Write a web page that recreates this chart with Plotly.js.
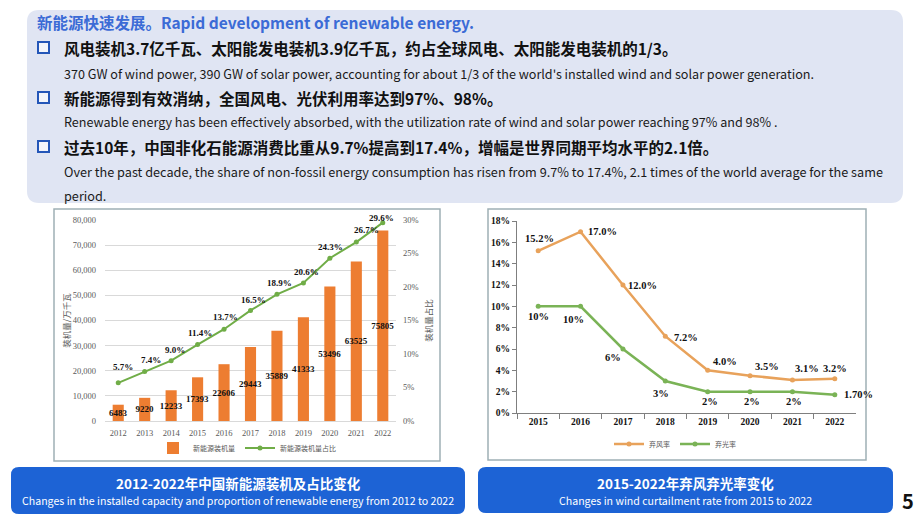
<!DOCTYPE html>
<html><head><meta charset="utf-8">
<script src="https://cdn.plot.ly/plotly-3.0.1.min.js"></script>
<style>html,body{margin:0;padding:0;background:#fff}#chart{width:920px;height:518px}</style>
</head><body><div id="chart"></div>
<script>
// ---------- data ----------
const years = ['2012','2013','2014','2015','2016','2017','2018','2019','2020','2021','2022'];
const capacity = [6483, 9220, 12233, 17393, 22606, 29443, 35889, 41333, 53496, 63525, 75805];
const shareValues = [5.7, 7.4, 9.0, 11.4, 13.7, 16.5, 18.9, 20.6, 24.3, 26.7, 29.6];
const curtailYears = ['2015','2016','2017','2018','2019','2020','2021','2022'];
const windCurtail = [15.2, 17.0, 12.0, 7.2, 4.0, 3.5, 3.1, 3.2];
const solarCurtail = [10, 10, 6, 3, 2, 2, 2, 1.7];
const solarLabels = ['10%','10%','6%','3%','2%','2%','2%','1.70%'];

const seriesNames = {bar:'新能源装机量', share:'新能源装机量占比', wind:'弃风率', solar:'弃光率'};
const axisTitles = {left:'装机量/万千瓦', right:'装机量占比'};

// ---------- styling / positions ----------
const W = 920, H = 518;
const px = x => x / W, py = y => 1 - y / H;
const SERIF = 'Liberation Serif, Times New Roman, serif';
const CJK = 'Noto Sans CJK SC, Noto Sans, sans-serif';

// label offsets (px) for the line labels
const shareOff = [[5,16],[6,11],[4,11],[2,12],[1,12],[3,10],[3,11],[3,11],[1,11],[10,12],[-1,5]];
const windOff = [[1,12,'center'],[5,0,'left'],[3,0,'left'],[7,-1,'left'],[3,9,'left'],[3,9,'left'],[1,11,'left'],[0,10,'center']];
const solarOff = [[0,-10,'center'],[-7,-13,'center'],[-10,-8,'center'],[-4,-12,'center'],[2,-10,'center'],[2,-10,'center'],[2,-10,'center'],[7,0,'left']];

function roundRect(x0, y0, x1, y1, r) {
  const rx = r / W, ry = r / H;
  const X0 = px(x0), X1 = px(x1), Y0 = py(y0), Y1 = py(y1);
  return `M ${X0+rx} ${Y0} L ${X1-rx} ${Y0} Q ${X1} ${Y0} ${X1} ${Y0-ry} L ${X1} ${Y1+ry} Q ${X1} ${Y1} ${X1-rx} ${Y1} L ${X0+rx} ${Y1} Q ${X0} ${Y1} ${X0} ${Y1+ry} L ${X0} ${Y0-ry} Q ${X0} ${Y0} ${X0+rx} ${Y0} Z`;
}

const shapes = [
  {type:'path', xref:'paper', yref:'paper', path: roundRect(27,10,903,203,12), fillcolor:'#e0e5f3', line:{width:0}, layer:'below'},
  {type:'rect', xref:'paper', yref:'paper', x0:px(54), x1:px(440), y0:py(209), y1:py(461), line:{color:'#9fb0b5', width:1.5}, layer:'below'},
  {type:'rect', xref:'paper', yref:'paper', x0:px(488), x1:px(866), y0:py(209), y1:py(460), line:{color:'#9fb0b5', width:1.5}, layer:'below'},
  {type:'path', xref:'paper', yref:'paper', path: roundRect(11,467,465,514,8), fillcolor:'#1d63d5', line:{width:0}},
  {type:'path', xref:'paper', yref:'paper', path: roundRect(478,467,893,513,8), fillcolor:'#1d63d5', line:{width:0}}
];
[48, 98, 147].forEach(c => shapes.push({type:'rect', xref:'paper', yref:'paper', x0:px(38), x1:px(49), y0:py(c-6), y1:py(c+5), line:{color:'#2456b8', width:2}, fillcolor:'#f3f5fb'}));

const pageText = [
  {t:'<b>新能源快速发展。Rapid development of renewable energy.</b>', x:35, y:22, s:15.5, c:'#3b6bd6'},
  {t:'<b>风电装机3.7亿千瓦、太阳能发电装机3.9亿千瓦，约占全球风电、太阳能发电装机的1/3。</b>', x:62, y:48, s:15.5, c:'#111'},
  {t:"370 GW of wind power, 390 GW of solar power, accounting for about 1/3 of the world's installed wind and solar power generation.", x:62, y:73, s:12.6, c:'#1a1a1a'},
  {t:'<b>新能源得到有效消纳，全国风电、光伏利用率达到97%、98%。</b>', x:62, y:98, s:15.5, c:'#111'},
  {t:'Renewable energy has been effectively absorbed, with the utilization rate of wind and solar power reaching 97% and 98% .', x:62, y:122, s:12.6, c:'#1a1a1a'},
  {t:'<b>过去10年，中国非化石能源消费比重从9.7%提高到17.4%，增幅是世界同期平均水平的2.1倍。</b>', x:62, y:147, s:15.5, c:'#111'},
  {t:'Over the past decade, the share of non-fossil energy consumption has risen from 9.7% to 17.4%, 2.1 times of the world average for the same', x:62, y:171, s:12.7, c:'#1a1a1a'},
  {t:'period.', x:62, y:195, s:12.7, c:'#1a1a1a'}
];
const annotations = pageText.map(a => ({xref:'paper', yref:'paper', x:px(a.x), y:py(a.y), xanchor:'left', yanchor:'middle', text:a.t, showarrow:false, font:{family:CJK, size:a.s, color:a.c}}));
annotations.push(
  {xref:'paper', yref:'paper', x:px(238), y:py(483), xanchor:'center', yanchor:'middle', text:'<b>2012-2022年中国新能源装机及占比变化</b>', showarrow:false, font:{family:CJK, size:13.5, color:'#fff'}},
  {xref:'paper', yref:'paper', x:px(238), y:py(500), xanchor:'center', yanchor:'middle', text:'Changes in the installed capacity and proportion of renewable energy from 2012 to 2022', showarrow:false, font:{family:CJK, size:10.6, color:'#fff'}},
  {xref:'paper', yref:'paper', x:px(685), y:py(483), xanchor:'center', yanchor:'middle', text:'<b>2015-2022年弃风弃光率变化</b>', showarrow:false, font:{family:CJK, size:13.5, color:'#fff'}},
  {xref:'paper', yref:'paper', x:px(685), y:py(500), xanchor:'center', yanchor:'middle', text:'Changes in wind curtailment rate from 2015 to 2022', showarrow:false, font:{family:CJK, size:10.6, color:'#fff'}},
  {xref:'paper', yref:'paper', x:px(908), y:py(500), xanchor:'center', yanchor:'middle', text:'<b>5</b>', showarrow:false, font:{family:CJK, size:20, color:'#111'}}
);
const lblFont = {family:SERIF, size:9, color:'#111', weight:'bold'};
const rLblFont = {family:SERIF, size:10.5, color:'#111', weight:'bold'};
// category axes: annotation x given as category index
years.forEach((yr, i) => annotations.push({xref:'x', yref:'y2', x:i, y:shareValues[i], text:shareValues[i].toFixed(1)+'%', showarrow:false, xshift:shareOff[i][0], yshift:shareOff[i][1], font:lblFont}));
curtailYears.forEach((yr, i) => {
  annotations.push({xref:'x2', yref:'y3', x:i, y:windCurtail[i], text:windCurtail[i].toFixed(1)+'%', showarrow:false, xanchor:windOff[i][2], xshift:windOff[i][0], yshift:windOff[i][1], font:rLblFont});
  annotations.push({xref:'x2', yref:'y3', x:i, y:solarCurtail[i], text:solarLabels[i], showarrow:false, xanchor:solarOff[i][2], xshift:solarOff[i][0], yshift:solarOff[i][1], font:rLblFont});
});

const traces = [
  {type:'bar', x:years, y:capacity, name:seriesNames.bar, xaxis:'x', yaxis:'y', marker:{color:'#ed7d31'},
   text:capacity.map(String), textposition:'inside', insidetextanchor:'middle', textangle:0, constraintext:'none',
   textfont:{family:SERIF, size:9, color:'#111', weight:'bold'}, legend:'legend'},
  {type:'scatter', mode:'lines+markers', x:years, y:shareValues, name:seriesNames.share, xaxis:'x', yaxis:'y2',
   line:{color:'#70ad47', width:2}, marker:{color:'#70ad47', size:5}, legend:'legend'},
  {type:'scatter', mode:'lines+markers', x:curtailYears, y:windCurtail, name:seriesNames.wind, xaxis:'x2', yaxis:'y3',
   line:{color:'#e8a25b', width:2.5}, marker:{color:'#e8a25b', size:5}, legend:'legend2'},
  {type:'scatter', mode:'lines+markers', x:curtailYears, y:solarCurtail, name:seriesNames.solar, xaxis:'x2', yaxis:'y3',
   line:{color:'#7ab356', width:2.5}, marker:{color:'#7ab356', size:5}, legend:'legend2'}
];

const grayTick = {family:SERIF, size:8.5, color:'#595959'};
const blackTick = {family:SERIF, size:9.5, color:'#111', weight:'bold'};
const layout = {
  width:W, height:H, margin:{l:0, r:0, t:0, b:0}, paper_bgcolor:'#fff', plot_bgcolor:'rgba(0,0,0,0)',
  hovermode:false, bargap:0.58, showlegend:true,
  xaxis:{domain:[px(105), px(396)], anchor:'y', type:'category', range:[-0.5, years.length-0.5], tickfont:grayTick, ticks:'', showline:false, showgrid:false, ticklabelstandoff:5},
  yaxis:{domain:[py(421), py(220)], anchor:'x', range:[0,80000], dtick:10000, tickformat:',', gridcolor:'#d9d9d9', zeroline:true, zerolinecolor:'#d9d9d9',
         tickfont:grayTick, ticklabelstandoff:8, title:{text:axisTitles.left, font:{family:CJK, size:8.5, color:'#595959'}, standoff:0}},
  yaxis2:{overlaying:'y', anchor:'x', side:'right', range:[0,30], dtick:5, ticksuffix:'%', showgrid:false, zeroline:false,
          tickfont:grayTick, ticklabelstandoff:6, title:{text:axisTitles.right, font:{family:CJK, size:8.5, color:'#595959'}, standoff:8}},
  xaxis2:{domain:[px(517), px(856)], anchor:'y3', type:'category', range:[-0.5, curtailYears.length-0.5], showline:true, linecolor:'#7f7f7f', linewidth:1, ticks:'outside', tickson:'boundaries',
          ticklen:5, tickcolor:'#7f7f7f', showgrid:false, tickfont:blackTick},
  yaxis3:{domain:[py(413), py(221)], anchor:'x2', range:[0,18], dtick:2, ticksuffix:'%', showline:true, linecolor:'#7f7f7f', linewidth:1,
          ticks:'outside', ticklen:4, tickcolor:'#7f7f7f', showgrid:false, zeroline:false, tickfont:blackTick},
  legend:{x:px(247), xanchor:'center', y:py(448), yanchor:'middle', orientation:'h', font:{family:CJK, size:7, color:'#595959'}, bgcolor:'rgba(0,0,0,0)', itemwidth:30},
  legend2:{x:px(675), xanchor:'center', y:py(444), yanchor:'middle', orientation:'h', font:{family:CJK, size:7, color:'#595959'}, bgcolor:'rgba(0,0,0,0)', itemwidth:30},
  shapes:shapes, annotations:annotations
};
Plotly.newPlot('chart', traces, layout, {displayModeBar:false, staticPlot:true});
</script></body></html>
